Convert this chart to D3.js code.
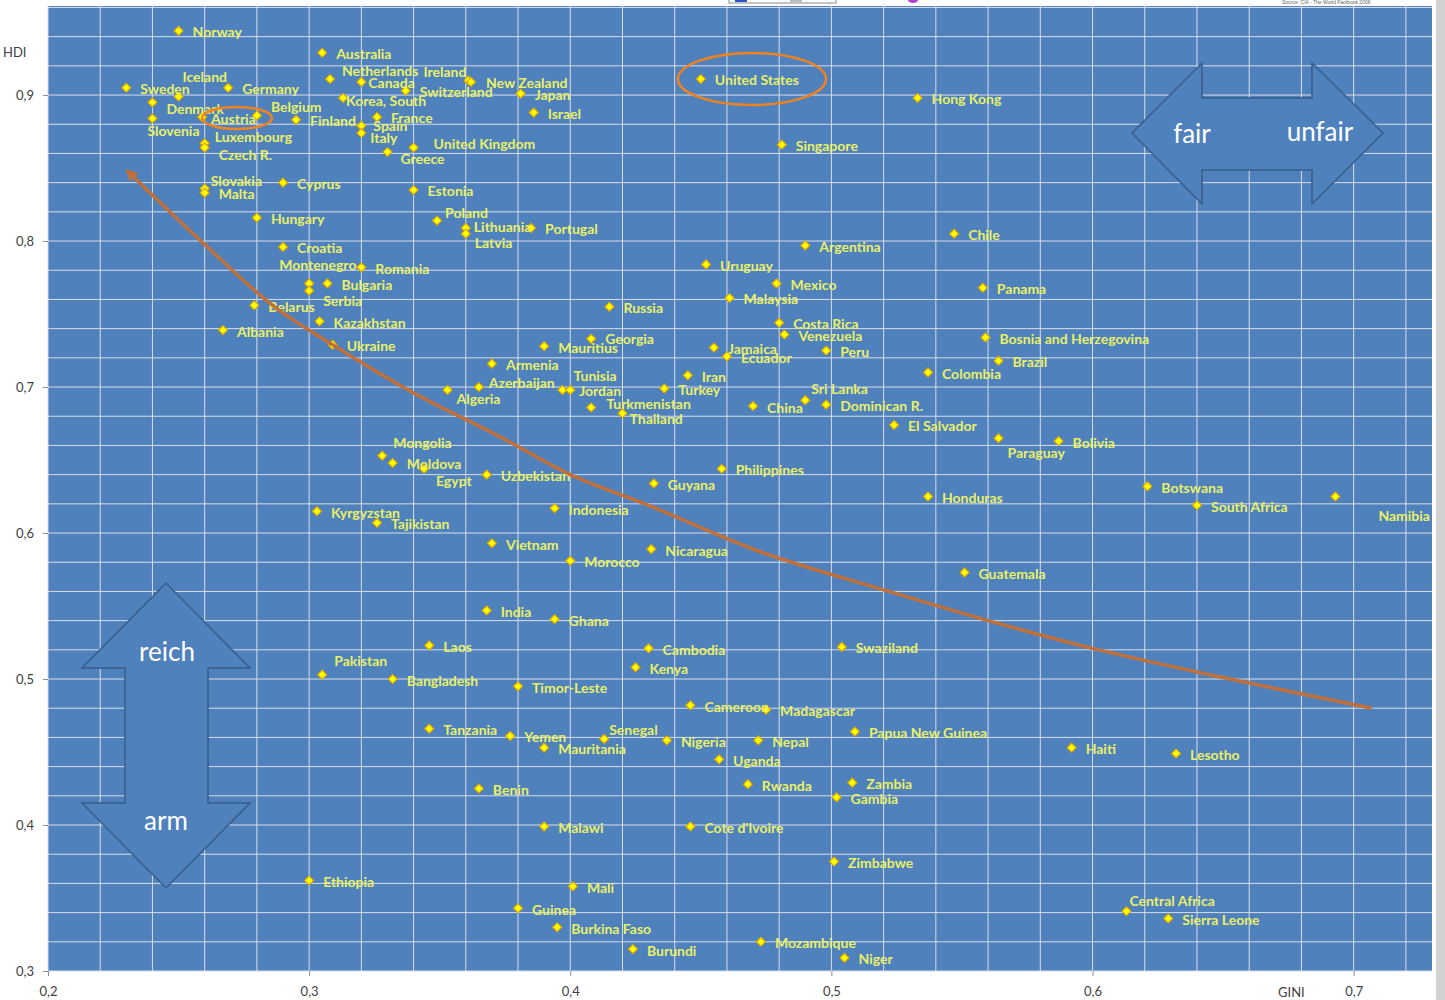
<html>
  <head>
    <meta charset="UTF-8">
    <script src="https://d3js.org/d3.v7.min.js"></script>
    <title>GINI vs HDI</title>
    <style>
      body { margin: 0; background: #ffffff; }
    </style>
  </head>
  <body>
	<script type="text/javascript">

      // countries, GINI (x) and HDI (y)
      var countries = ["Norway","Australia","Netherlands","Canada","Ireland","New Zealand","Switzerland","Japan","Israel",
        "Sweden","Iceland","Germany","Denmark","Slovenia","Austria","Belgium","Finland","Luxembourg","Czech R.",
        "Korea, South","France","Spain","Italy","Greece","United Kingdom","Slovakia","Malta","Cyprus","Estonia",
        "Hungary","Croatia","Poland","Lithuania","Latvia","Portugal","United States","Hong Kong","Singapore","Argentina",
        "Chile","Panama","Bosnia and Herzegovina","Brazil","Colombia","El Salvador","Paraguay","Bolivia","Honduras",
        "Botswana","South Africa","Namibia","Uruguay","Mexico","Malaysia","Russia","Costa Rica","Venezuela","Peru",
        "Georgia","Mauritius","Jamaica","Ecuador","Armenia","Iran","Tunisia","Jordan","Turkey","Azerbaijan","Algeria",
        "Sri Lanka","China","Dominican R.","Turkmenistan","Thailand","Philippines","Guyana","Uzbekistan","Mongolia",
        "Moldova","Egypt","Kyrgyzstan","Tajikistan","Indonesia","Vietnam","Morocco","Nicaragua","India","Ghana",
        "Laos","Cambodia","Pakistan","Bangladesh","Kenya","Timor-Leste","Cameroon","Madagascar","Tanzania","Yemen",
        "Senegal","Mauritania","Nigeria","Uganda","Papua New Guinea","Nepal","Haiti","Lesotho","Benin","Rwanda",
        "Zambia","Gambia","Malawi","Cote d'Ivoire","Zimbabwe","Ethiopia","Mali","Guinea","Burkina Faso","Burundi",
        "Mozambique","Niger","Central Africa","Sierra Leone","Swaziland","Guatemala","Montenegro","Bulgaria","Serbia",
        "Romania","Belarus","Kazakhstan","Albania","Ukraine"];

      var gini = [0.250,0.305,0.308,0.320,0.361,0.362,0.337,0.381,0.386,
        0.230,0.250,0.269,0.240,0.240,0.259,0.280,0.295,0.260,0.260,
        0.313,0.326,0.320,0.320,0.330,0.340,0.260,0.260,0.290,0.340,
        0.280,0.290,0.349,0.360,0.360,0.385,0.450,0.533,0.481,0.490,
        0.547,0.558,0.559,0.564,0.537,0.524,0.564,0.587,0.537,
        0.621,0.640,0.693,0.452,0.479,0.461,0.415,0.480,0.482,0.498,
        0.408,0.390,0.455,0.460,0.370,0.445,0.397,0.400,0.436,0.365,0.353,
        0.490,0.470,0.498,0.408,0.420,0.458,0.432,0.368,0.328,
        0.332,0.344,0.303,0.326,0.394,0.370,0.400,0.431,0.368,0.394,
        0.346,0.430,0.305,0.332,0.425,0.380,0.446,0.475,0.346,0.377,
        0.413,0.390,0.437,0.457,0.509,0.472,0.592,0.632,0.365,0.468,
        0.508,0.502,0.390,0.446,0.501,0.300,0.401,0.380,0.395,0.424,
        0.473,0.505,0.613,0.629,0.504,0.551,0.300,0.307,0.300,
        0.320,0.279,0.304,0.267,0.309];

      var hdi = [0.944,0.929,0.911,0.909,0.910,0.909,0.903,0.901,0.888,
        0.905,0.899,0.905,0.895,0.884,0.885,0.886,0.883,0.867,0.864,
        0.898,0.885,0.879,0.874,0.861,0.864,0.836,0.833,0.840,0.835,
        0.816,0.796,0.814,0.809,0.805,0.809,0.911,0.898,0.866,0.797,
        0.805,0.768,0.734,0.718,0.710,0.674,0.665,0.663,0.625,
        0.632,0.619,0.625,0.784,0.771,0.761,0.755,0.744,0.736,0.725,
        0.733,0.728,0.727,0.721,0.716,0.708,0.698,0.698,0.699,0.700,0.698,
        0.691,0.687,0.688,0.686,0.682,0.644,0.634,0.640,0.653,
        0.648,0.644,0.615,0.607,0.617,0.593,0.581,0.589,0.547,0.541,
        0.523,0.521,0.503,0.500,0.508,0.495,0.482,0.479,0.466,0.461,
        0.459,0.453,0.458,0.445,0.464,0.458,0.453,0.449,0.425,0.428,
        0.429,0.419,0.399,0.399,0.375,0.362,0.358,0.343,0.330,0.315,
        0.320,0.309,0.341,0.336,0.522,0.573,0.771,0.771,0.766,
        0.782,0.756,0.745,0.739,0.729];

      // hand drawn trend curve, points read along it
      var trendGini = [0.231,0.258,0.286,0.309,0.339,0.373,0.400,0.430,0.473,0.522,0.560,0.600,0.650,0.707];
      var trendHdi  = [0.847,0.801,0.756,0.729,0.697,0.666,0.640,0.619,0.587,0.560,0.540,0.521,0.501,0.480];

      var yTicks = [0.3,0.4,0.5,0.6,0.7,0.8,0.9];
      var xTicks = [0.2,0.3,0.4,0.5,0.6,0.7];

      // label placement (pixels from the marker), default is right of it
      var labelOffsets = {
        "Netherlands":[12,-8], "Canada":[7,1], "Ireland":[-2,-9,"end"], "New Zealand":[15,1], "Iceland":[4,-20],
        "Slovenia":[-5,12], "Austria":[9,2], "Belgium":[14,-9], "Luxembourg":[10,-7], "Czech R.":[14,7],
        "Korea, South":[3,3], "Spain":[12,0], "Italy":[9,4], "Greece":[13,7], "United Kingdom":[20,-4],
        "Slovakia":[6,-8], "Denmark":[14,6], "Poland":[8,-8], "Lithuania":[8,-1], "Latvia":[9,9],
        "Montenegro":[-30,-19], "Serbia":[14,10], "Mongolia":[11,-13], "Egypt":[12,12], "Tunisia":[11,-14],
        "Jordan":[9,1], "Azerbaijan":[10,-5], "Algeria":[9,9], "Sri Lanka":[6,-12], "Turkmenistan":[15,-4],
        "Thailand":[7,5], "Pakistan":[12,-14], "Senegal":[5,-9], "Paraguay":[9,14], "Namibia":[43,19],
        "Central Africa":[3,-11], "Georgia":[14,0]
      };

      var width = 1445;
      var height = 1000;

      var svg = d3.select('body')
                  .append('svg')
                  .attr('width', width)
                  .attr('height', height);

      var x = d3.scaleLinear().domain([0.2, 0.73]).range([48, 1432]);
      var y = d3.scaleLinear().domain([0.3, 0.961]).range([971, 6]);

      var comma = function(d){ return d3.format('.1f')(d).replace('.', ','); };

      // grey strip on the right and the clipped top bits
      svg.append('rect').attr('x', 1436).attr('y', 0).attr('width', 9).attr('height', height).attr('fill', '#d2d2d2');
      svg.append('rect').attr('x', 729).attr('y', -8).attr('width', 107).attr('height', 11)
          .attr('fill', 'white').attr('stroke', '#888');
      svg.append('rect').attr('x', 735).attr('y', -4).attr('width', 12).attr('height', 6).attr('fill', '#2455c3');
      svg.append('rect').attr('x', 790).attr('y', -4).attr('width', 12).attr('height', 6).attr('fill', '#bdbdbd');
      svg.append('ellipse').attr('cx', 913).attr('cy', 0).attr('rx', 5).attr('ry', 3).attr('fill', '#b040d0');
      svg.append('text').attr('x', 1282).attr('y', 3.5).text('Source: CIA - The World Factbook 2006')
          .attr('font-family', 'Liberation Sans, Arial').attr('font-size', '5px').attr('fill', '#666');

      // plot area
      svg.append('rect')
          .attr('x', x(0.2)).attr('y', y(0.961))
          .attr('width', x(0.73) - x(0.2)).attr('height', y(0.3) - y(0.961))
          .attr('fill', '#4f81bd');

      var grid = svg.append('g');
      grid.selectAll('line.v')
          .data(d3.range(0.2, 0.7201, 0.02))
          .enter().append('line')
          .attr('x1', function(d){ return x(d); }).attr('x2', function(d){ return x(d); })
          .attr('y1', y(0.961)).attr('y2', y(0.3))
          .style('stroke', '#d9dde6').style('stroke-width', '1px');
      grid.selectAll('line.h')
          .data(d3.range(0.3, 0.9601, 0.02))
          .enter().append('line')
          .attr('y1', function(d){ return y(d); }).attr('y2', function(d){ return y(d); })
          .attr('x1', x(0.2)).attr('x2', x(0.73))
          .style('stroke', '#d9dde6').style('stroke-width', '1px');

      // axes
      var yAxis = svg.append('g').attr('transform', 'translate(' + x(0.2) + ',0)')
          .call(d3.axisLeft(y).tickValues(yTicks).tickFormat(comma).tickSize(5).tickPadding(9));
      var xAxis = svg.append('g').attr('transform', 'translate(0,' + y(0.3) + ')')
          .call(d3.axisBottom(x).tickValues(xTicks).tickFormat(comma).tickSize(5).tickPadding(11));
      [yAxis, xAxis].forEach(function(a){
        a.select('.domain').remove();
        a.selectAll('line').style('stroke', '#8c8c8c');
        a.selectAll('text').style('font-family', 'Lato, sans-serif').style('font-size', '13px').style('fill', '#404040');
      });

      svg.append('text').attr('x', 3).attr('y', 57).text('HDI')
          .style('font-family', 'Lato, sans-serif').style('font-size', '13px').style('fill', '#404040');
      svg.append('text').attr('x', 1278).attr('y', 997).text('GINI')
          .style('font-family', 'Lato, sans-serif').style('font-size', '13px').style('fill', '#404040');

      var points = countries.map(function(c, i){ return {name: c, g: gini[i], h: hdi[i]}; });

      // markers
      svg.selectAll('path.marker')
          .data(points)
          .enter().append('path')
          .attr('d', d3.symbol().type(d3.symbolSquare).size(40))
          .attr('transform', function(d){ return 'translate(' + x(d.g) + ',' + y(d.h) + ') rotate(45)'; })
          .style('fill', '#ffff00')
          .style('stroke', '#e0a800')
          .style('stroke-width', '1.2px');

      // labels
      svg.selectAll('text.label')
          .data(points)
          .enter().append('text')
          .text(function(d){ return d.name; })
          .attr('x', function(d){ var o = labelOffsets[d.name] || [14, 1]; return x(d.g) + o[0]; })
          .attr('y', function(d){ var o = labelOffsets[d.name] || [14, 1]; return y(d.h) + o[1]; })
          .attr('text-anchor', function(d){ var o = labelOffsets[d.name]; return o && o[2] ? o[2] : 'start'; })
          .attr('dominant-baseline', 'central')
          .style('font-family', 'Lato, sans-serif')
          .style('font-weight', 'bold')
          .style('font-size', '14px')
          .style('fill', '#e8f068');

      // trend curve with arrow head at the top left end
      svg.append('defs').append('marker')
          .attr('id', 'head')
          .attr('viewBox', '0 0 10 10')
          .attr('refX', 6).attr('refY', 5)
          .attr('markerWidth', 3.5).attr('markerHeight', 3.5)
          .attr('orient', 'auto-start-reverse')
          .append('path').attr('d', 'M0,0 L10,5 L0,10 z').attr('fill', '#c0703a');

      var trend = trendGini.map(function(g, i){ return [g, trendHdi[i]]; });
      svg.append('path')
          .datum(trend)
          .attr('d', d3.line().x(function(d){ return x(d[0]); }).y(function(d){ return y(d[1]); }).curve(d3.curveCatmullRom))
          .attr('marker-start', 'url(#head)')
          .style('fill', 'none')
          .style('stroke', '#c0703a')
          .style('stroke-width', '3.5px');

      // block arrows
      var arrowStyle = function(sel){
        sel.style('fill', '#4f81bd').style('stroke', '#385d8a').style('stroke-width', '1.5px');
      };
      svg.append('path')
          .attr('d', 'M1132,133 L1202,63 L1202,98 L1312,98 L1312,63 L1383,133 L1312,204 L1312,170 L1202,170 L1202,204 Z')
          .call(arrowStyle);
      svg.append('path')
          .attr('d', 'M166,583 L250,668 L208,668 L208,803 L250,803 L166,888 L82,803 L125,803 L125,668 L82,668 Z')
          .call(arrowStyle);

      var arrowText = [['fair', 1192, 133], ['unfair', 1320, 131], ['reich', 167, 651], ['arm', 166, 820]];
      svg.selectAll('text.arrow')
          .data(arrowText)
          .enter().append('text')
          .text(function(d){ return d[0]; })
          .attr('x', function(d){ return d[1]; })
          .attr('y', function(d){ return d[2]; })
          .attr('text-anchor', 'middle')
          .attr('dominant-baseline', 'central')
          .style('font-family', 'Lato, sans-serif')
          .style('font-size', '26px')
          .style('fill', 'white');

      // highlight circles
      svg.append('ellipse').attr('cx', 752).attr('cy', 79).attr('rx', 74).attr('ry', 26)
          .style('fill', 'none').style('stroke', '#f0831e').style('stroke-width', '2.5px');
      svg.append('ellipse').attr('cx', 237).attr('cy', 118).attr('rx', 35).attr('ry', 11)
          .style('fill', 'none').style('stroke', '#f0831e').style('stroke-width', '2.5px');

	</script>
  </body>
</html>
